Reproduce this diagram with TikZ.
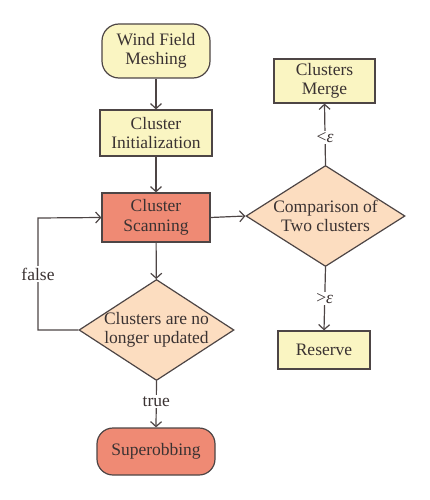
\documentclass[tikz,border=0pt]{standalone}
\usepackage{fontspec}
\setmainfont{Liberation Serif}
\usetikzlibrary{shapes.geometric,arrows.meta}
\definecolor{lnc}{HTML}{4D4545}
\definecolor{txc}{HTML}{3A3232}
\definecolor{yel}{HTML}{FAF5C2}
\definecolor{red}{HTML}{EF8A74}
\definecolor{pch}{HTML}{FCDDC0}
\tikzset{
  base/.style={draw=lnc, line width=1.2pt, text=txc, align=center, inner sep=0pt,
    font=\fontsize{17.5}{19.5}\selectfont},
  ybox/.style={base, rectangle, fill=yel},
  rbox/.style={base, rectangle, fill=red},
  dia/.style={base, diamond, fill=pch},
  arr/.style={draw=lnc, line width=1.2pt, -{Straight Barb[length=5pt,width=11pt,line width=1.2pt]}},
  lbl/.style={fill=white, text=txc, inner sep=1.5pt, font=\fontsize{17.5}{19.5}\selectfont}
}
\begin{document}
\begin{tikzpicture}[x=1pt,y=-1pt]
\useasboundingbox (0,0) rectangle (430,500);
\node[ybox, rounded corners=17pt, minimum width=108pt, minimum height=54pt] (wfm) at (156,51) {Wind Field\\Meshing};
\node[ybox, minimum width=112pt, minimum height=46pt] (init) at (156,133) {Cluster\\Initialization};
\node[rbox, minimum width=108pt, minimum height=49pt] (scan) at (156,217.5) {Cluster\\Scanning};
\node[dia, minimum width=155pt, minimum height=101pt,
  label={[align=center, text=txc, font=\fontsize{17.5}{19.5}\selectfont]center:Clusters are no\\longer updated}] (upd) at (156.5,330) {};
\node[rbox, rounded corners=16pt, minimum width=118pt, minimum height=47pt] (sup) at (156,451.5) {Superobbing};
\node[dia, minimum width=159pt, minimum height=101pt,
  label={[align=center, text=txc, font=\fontsize{17.5}{19.5}\selectfont]center:Comparison of\\Two clusters}] (cmp) at (325.5,216) {};
\node[ybox, minimum width=101pt, minimum height=44pt] (merge) at (324.5,81) {Clusters\\Merge};
\node[ybox, minimum width=92pt, minimum height=38pt] (res) at (324,350) {Reserve};
\coordinate (lb) at (38,330);
\coordinate (lt) at (38,218);
\draw[arr] (wfm) -- (init);
\draw[arr] (init) -- (scan);
\draw[arr] (scan) -- (upd);
\draw[arr] (upd.south) -- node[lbl, pos=0.45] {true} (sup.north);
\draw[arr] (upd.west) -- (lb) -- node[lbl, pos=0.5] {false} (lt) -- (scan.west);
\draw[arr] (scan.east) -- (cmp.west);
\draw[arr] (cmp.north) -- node[lbl, pos=0.45] {<\textit{ε}} (merge.south);
\draw[arr] (cmp.south) -- node[lbl, pos=0.5] {>\textit{ε}} (res.north);
\end{tikzpicture}
\end{document}
